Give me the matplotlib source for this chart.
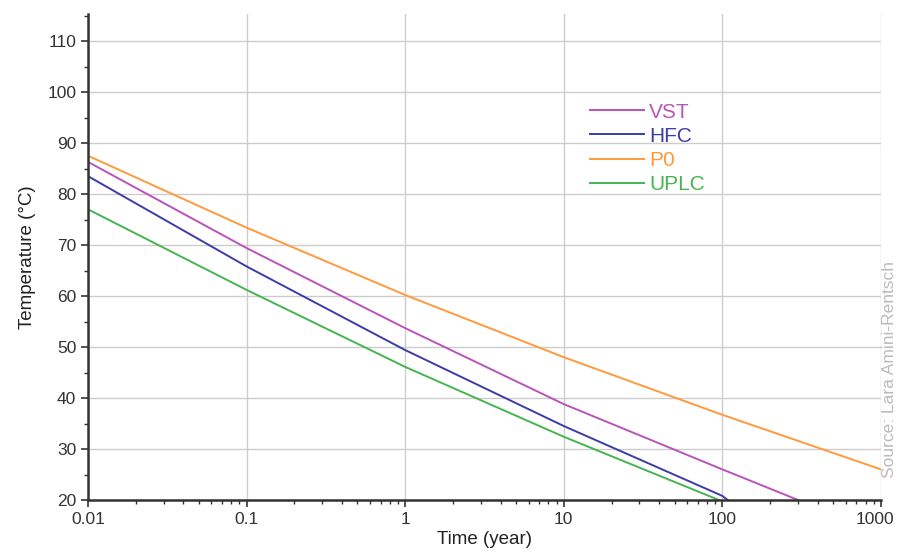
import matplotlib
matplotlib.use("Agg")
import matplotlib.pyplot as plt
import matplotlib.transforms as mtransforms
from matplotlib.ticker import FixedLocator, NullFormatter

plt.rcParams['font.family'] = ['Liberation Sans', 'DejaVu Sans']

series_names = ["VST", "HFC", "P0", "UPLC"]
colors = ["#b954b9", "#3c3ca8", "#ff9a3c", "#46b450"]

vst_t = [0.01, 0.1, 1, 10, 100, 300]
vst_T = [86.3, 69.4, 53.7, 38.8, 26.0, 20.0]
hfc_t = [0.01, 0.1, 1, 10, 100, 108]
hfc_T = [83.5, 65.8, 49.4, 34.5, 20.8, 20.0]
p0_t = [0.01, 0.1, 1, 10, 100, 1000]
p0_T = [87.5, 73.4, 60.2, 48.0, 36.7, 26.0]
uplc_t = [0.01, 0.1, 1, 10, 95]
uplc_T = [77.0, 61.2, 46.1, 32.4, 20.0]

x_ticks = [0.01, 0.1, 1, 10, 100, 1000]
x_tick_labels = ["0.01", "0.1", "1", "10", "100", "1000"]
y_ticks = [20, 30, 40, 50, 60, 70, 80, 90, 100, 110]

fig = plt.figure(figsize=(8.98, 5.52), dpi=100)
ax = fig.add_axes([88/898, 52/552, (881-88)/898, (500-14)/552])

data = [(vst_t, vst_T), (hfc_t, hfc_T), (p0_t, p0_T), (uplc_t, uplc_T)]
for (t, T), name, c in zip(data, series_names, colors):
    ax.plot(t, T, color=c, lw=1.4, label=name)

ax.set_xscale('log')
ax.set_xlim(0.01, 1000)
ax.set_ylim(20, 115.3)
ax.set_xticks(x_ticks)
ax.set_xticklabels(x_tick_labels)
ax.xaxis.set_minor_locator(FixedLocator([m * 10**e for e in range(-2, 3) for m in range(2, 10)]))
ax.xaxis.set_minor_formatter(NullFormatter())
ax.set_yticks(y_ticks)
ax.yaxis.set_minor_locator(FixedLocator([25, 35, 45, 55, 65, 75, 85, 95, 105, 115]))

ax.grid(True, which='major', color='#cccccc', lw=1.0)
ax.set_axisbelow(True)
for s in ['top', 'right']:
    ax.spines[s].set_visible(False)
for s in ['left', 'bottom']:
    ax.spines[s].set_color('#333333')
    ax.spines[s].set_linewidth(1.8)

ax.tick_params(axis='both', which='major', direction='out', length=5, width=1.2,
               color='#333333', labelsize=12.5, labelcolor='#333333')
ax.tick_params(axis='both', which='minor', direction='out', length=3, width=1.0, color='#333333')

# keep the last x tick label inside the figure
last = ax.get_xticklabels()[-1]
last.set_transform(last.get_transform() + mtransforms.ScaledTranslation(-6/100, 0, fig.dpi_scale_trans))

ax.set_xlabel("Time (year)", fontsize=13.5, color='#222222', labelpad=3)
ax.set_ylabel("Temperature (°C)", fontsize=13.5, color='#222222', labelpad=8)

leg = ax.legend(loc='upper left', bbox_to_anchor=(0.6225, 0.835), frameon=False,
                fontsize=15, handlelength=2.6, handletextpad=0.25, labelspacing=0.25,
                borderaxespad=0)
for txt, c in zip(leg.get_texts(), colors):
    txt.set_color(c)

fig.text(0.991, 0.33, "Source: Lara Amini-Rentsch", rotation=90, fontsize=12.5,
         color='#bbbbbb', ha='center', va='center')

fig.savefig("out.png", dpi=100)
